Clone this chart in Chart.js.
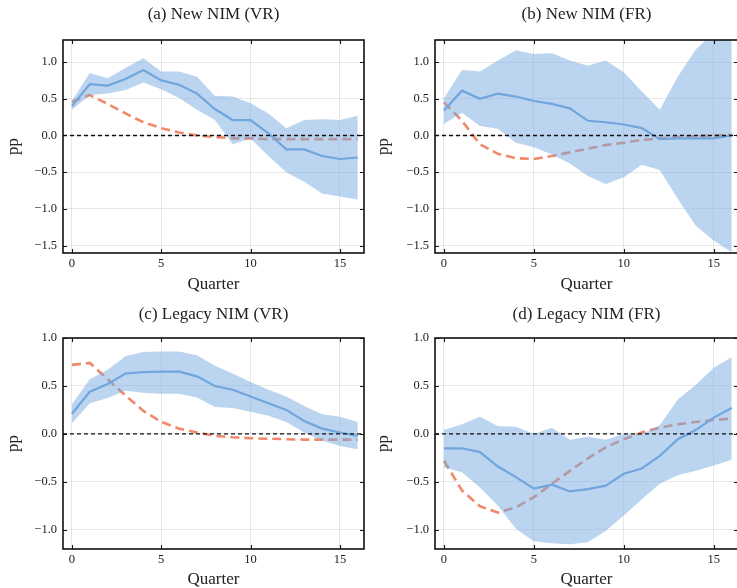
<!DOCTYPE html>
<html>
<head>
<meta charset="utf-8">
<script src="https://cdn.jsdelivr.net/npm/chart.js@4.4.1/dist/chart.umd.min.js"></script>
<style>
  html, body { margin: 0; padding: 0; background: #fff; }
  #wrap { position: relative; width: 737px; height: 588px; overflow: hidden; }
  canvas { position: absolute; }
</style>
</head>
<body>
<div id="wrap">
  <canvas id="pa" width="370" height="296" style="left:0;top:0"></canvas>
  <canvas id="pb" width="372" height="296" style="left:370px;top:0"></canvas>
  <canvas id="pc" width="370" height="292" style="left:0;top:296px"></canvas>
  <canvas id="pd" width="372" height="292" style="left:370px;top:296px"></canvas>
</div>
<script>
// horizon in quarters
const quarters = [0, 1, 2, 3, 4, 5, 6, 7, 8, 9, 10, 11, 12, 13, 14, 15, 16];
const xTicks = [0, 5, 10, 15];
const yTicksTop = [-1.5, -1.0, -0.5, 0.0, 0.5, 1.0];
const yTicksBottom = [-1.0, -0.5, 0.0, 0.5, 1.0];

const titles = ['(a) New NIM (VR)', '(b) New NIM (FR)', '(c) Legacy NIM (VR)', '(d) Legacy NIM (FR)'];

// (a) new NIM, variable rate
const newVrIrf   = [0.40, 0.70, 0.68, 0.77, 0.89, 0.75, 0.69, 0.57, 0.36, 0.21, 0.21, 0.03, -0.19, -0.19, -0.28, -0.32, -0.30];
const newVrHi    = [0.47, 0.85, 0.78, 0.92, 1.05, 0.87, 0.87, 0.80, 0.54, 0.53, 0.44, 0.30, 0.10, 0.21, 0.22, 0.21, 0.27];
const newVrLo    = [0.35, 0.55, 0.57, 0.62, 0.72, 0.63, 0.51, 0.35, 0.21, -0.12, -0.04, -0.28, -0.50, -0.63, -0.79, -0.83, -0.87];
const newVrModel = [0.46, 0.55, 0.43, 0.30, 0.18, 0.10, 0.04, 0.00, -0.02, -0.04, -0.04, -0.05, -0.05, -0.05, -0.05, -0.05, -0.05];

// (b) new NIM, fixed rate
const newFrIrf   = [0.34, 0.61, 0.50, 0.57, 0.53, 0.47, 0.43, 0.37, 0.20, 0.18, 0.15, 0.10, -0.05, -0.04, -0.04, -0.04, 0.00];
const newFrHi    = [0.51, 0.89, 0.87, 1.02, 1.16, 1.11, 1.12, 1.02, 0.95, 1.02, 0.86, 0.60, 0.35, 0.80, 1.17, 1.40, 1.55];
const newFrLo    = [0.16, 0.31, 0.13, 0.09, -0.10, -0.16, -0.26, -0.38, -0.55, -0.66, -0.57, -0.40, -0.47, -0.86, -1.23, -1.43, -1.59];
const newFrModel = [0.45, 0.20, -0.12, -0.25, -0.31, -0.32, -0.28, -0.23, -0.18, -0.13, -0.10, -0.06, -0.04, -0.02, -0.01, 0.00, 0.01];

// (c) legacy NIM, variable rate
const legVrIrf   = [0.21, 0.44, 0.52, 0.63, 0.645, 0.65, 0.65, 0.60, 0.50, 0.46, 0.39, 0.32, 0.25, 0.135, 0.055, 0.015, -0.02];
const legVrHi    = [0.31, 0.57, 0.67, 0.81, 0.855, 0.86, 0.86, 0.82, 0.71, 0.63, 0.54, 0.46, 0.39, 0.29, 0.205, 0.18, 0.125];
const legVrLo    = [0.11, 0.32, 0.375, 0.45, 0.43, 0.42, 0.42, 0.38, 0.28, 0.27, 0.23, 0.19, 0.125, 0.015, -0.07, -0.125, -0.16];
const legVrModel = [0.72, 0.74, 0.57, 0.40, 0.24, 0.125, 0.055, 0.015, -0.02, -0.035, -0.045, -0.05, -0.055, -0.06, -0.06, -0.06, -0.06];

// (d) legacy NIM, fixed rate
const legFrIrf   = [-0.15, -0.15, -0.19, -0.34, -0.45, -0.57, -0.53, -0.60, -0.575, -0.54, -0.415, -0.36, -0.23, -0.055, 0.04, 0.17, 0.27];
const legFrHi    = [0.04, 0.10, 0.18, 0.08, 0.075, 0.00, 0.065, -0.06, -0.03, -0.06, 0.00, 0.00, 0.09, 0.36, 0.51, 0.69, 0.80];
const legFrLo    = [-0.35, -0.40, -0.56, -0.75, -0.99, -1.12, -1.14, -1.15, -1.13, -1.01, -0.85, -0.68, -0.52, -0.43, -0.385, -0.33, -0.27];
const legFrModel = [-0.28, -0.59, -0.755, -0.82, -0.765, -0.66, -0.52, -0.385, -0.255, -0.14, -0.055, 0.015, 0.065, 0.10, 0.125, 0.145, 0.16];

const SERIF = '"Liberation Serif", "Times New Roman", serif';
const BLUE = 'rgb(106,161,220)';
const BAND = 'rgba(120,170,224,0.5)';
const ORANGE = '#f0896a';

const pts = arr => arr.map((v, i) => ({ x: quarters[i], y: v }));
const fmt = v => v.toFixed(1).replace('-', '\u2212');

// frame, inward ticks on all sides, zero line and panel title
const decor = {
  id: 'decor',
  afterDatasetsDraw(chart) {
    const { ctx, chartArea: a, scales: { y } } = chart;
    const y0 = y.getPixelForValue(0);
    ctx.save();
    ctx.beginPath();
    ctx.rect(a.left, a.top, a.right - a.left, a.bottom - a.top);
    ctx.clip();
    ctx.strokeStyle = '#111';
    ctx.lineWidth = 1.4;
    ctx.setLineDash([4, 3]);
    ctx.beginPath();
    ctx.moveTo(a.left, y0);
    ctx.lineTo(a.right, y0);
    ctx.stroke();
    ctx.restore();
  },
  afterDraw(chart, args, opts) {
    const { ctx, chartArea: a, scales: { x, y } } = chart;
    ctx.save();
    ctx.strokeStyle = '#111';
    ctx.lineWidth = 1.1;
    const tl = 4;
    ctx.beginPath();
    xTicks.forEach(v => {
      const px = Math.round(x.getPixelForValue(v)) + 0.5;
      ctx.moveTo(px, a.bottom); ctx.lineTo(px, a.bottom - tl);
      ctx.moveTo(px, a.top); ctx.lineTo(px, a.top + tl);
    });
    opts.yTicks.forEach(v => {
      const py = Math.round(y.getPixelForValue(v)) + 0.5;
      ctx.moveTo(a.left, py); ctx.lineTo(a.left + tl, py);
      ctx.moveTo(a.right, py); ctx.lineTo(a.right - tl, py);
    });
    ctx.stroke();
    ctx.lineWidth = 1.6;
    ctx.strokeRect(a.left, a.top, a.right - a.left, a.bottom - a.top);
    ctx.fillStyle = '#222';
    ctx.font = '17px ' + SERIF;
    ctx.textAlign = 'center';
    ctx.textBaseline = 'middle';
    ctx.fillText(opts.title, (a.left + a.right) / 2, a.top - opts.titleGap);
    ctx.restore();
  }
};

function panel(id, idx, irf, lo, hi, model, cfg) {
  new Chart(document.getElementById(id), {
    type: 'line',
    data: {
      datasets: [
        { data: pts(lo), borderWidth: 0, pointRadius: 0, fill: false },
        { data: pts(hi), borderWidth: 0, pointRadius: 0, fill: '-1', backgroundColor: BAND },
        { data: pts(irf), borderColor: BLUE, borderWidth: 2.2, pointRadius: 0, fill: false },
        { data: pts(model), borderColor: ORANGE, borderWidth: 2.6, borderDash: [9, 5], pointRadius: 0, fill: false }
      ]
    },
    options: {
      responsive: false,
      animation: false,
      devicePixelRatio: 1,
      layout: { padding: { left: 0, right: cfg.padRight, top: cfg.padTop, bottom: 0 } },
      plugins: {
        legend: { display: false },
        tooltip: { enabled: false },
        decor: { title: titles[idx], titleGap: cfg.titleGap, yTicks: cfg.yTicks }
      },
      scales: {
        x: {
          type: 'linear',
          min: -0.5,
          max: 16.35,
          afterBuildTicks: s => { s.ticks = xTicks.map(v => ({ value: v })); },
          afterFit: s => { s.height = cfg.xHeight; },
          grid: { color: 'rgba(0,0,0,0.09)', drawTicks: false },
          border: { display: false },
          ticks: { padding: 3, color: '#222', font: { family: SERIF, size: 12.5 }, maxRotation: 0, callback: v => String(v) },
          title: { display: true, text: 'Quarter', color: '#222', font: { family: SERIF, size: 17, lineHeight: 1.0 }, padding: { top: 0, bottom: cfg.xTitlePad } }
        },
        y: {
          min: cfg.yMin,
          max: cfg.yMax,
          afterBuildTicks: s => { s.ticks = cfg.yTicks.map(v => ({ value: v })); },
          afterFit: s => { s.width = cfg.yWidth; },
          grid: { color: 'rgba(0,0,0,0.09)', drawTicks: false },
          border: { display: false },
          ticks: { padding: 6, color: '#222', font: { family: SERIF, size: 12.5 }, callback: v => fmt(v) },
          title: { display: true, text: 'pp', color: '#222', font: { family: SERIF, size: 17 }, padding: { top: 3, bottom: 0 } }
        }
      }
    },
    plugins: [decor]
  });
}

const topCfg = { yMin: -1.6, yMax: 1.3, yTicks: yTicksTop, padTop: 40, xHeight: 43, xTitlePad: 3, titleGap: 25.5 };
const botCfg = { yMin: -1.2, yMax: 1.0, yTicks: yTicksBottom, padTop: 42, xHeight: 39, xTitlePad: 0, titleGap: 23.5 };

panel('pa', 0, newVrIrf, newVrLo, newVrHi, newVrModel, Object.assign({ yWidth: 63, padRight: 6 }, topCfg));
panel('pb', 1, newFrIrf, newFrLo, newFrHi, newFrModel, Object.assign({ yWidth: 65, padRight: 4 }, topCfg));
panel('pc', 2, legVrIrf, legVrLo, legVrHi, legVrModel, Object.assign({ yWidth: 63, padRight: 6 }, botCfg));
panel('pd', 3, legFrIrf, legFrLo, legFrHi, legFrModel, Object.assign({ yWidth: 65, padRight: 4 }, botCfg));
</script>
</body>
</html>
